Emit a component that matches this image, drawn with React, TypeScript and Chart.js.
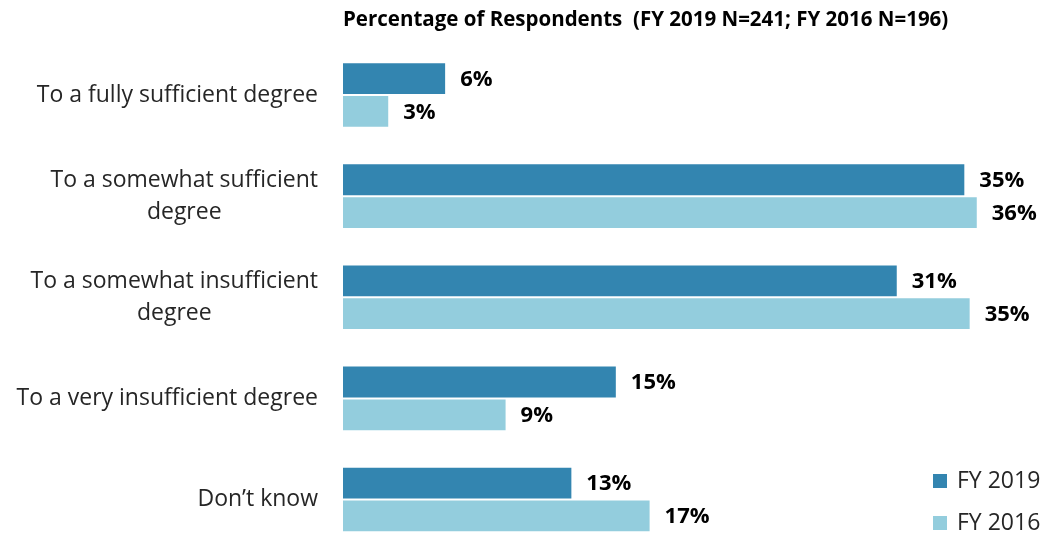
import React, { useEffect, useRef } from "react";
import { Chart, registerables } from "chart.js";

Chart.register(...registerables);

const categories: (string | string[])[] = [
  "To a fully sufficient degree",
  ["To a somewhat sufficient", "degree"],
  ["To a somewhat insufficient", "degree"],
  "To a very insufficient degree",
  "Don’t know",
];
const fy2019: number[] = [5.8, 35.0, 31.2, 15.4, 12.9];
const fy2016: number[] = [2.6, 35.7, 35.3, 9.2, 17.3];
const seriesLabels = ["FY 2019", "FY 2016"];
const titleText = "Percentage of Respondents  (FY 2019 N=241; FY 2016 N=196)";

const FONT = "'Open Sans', 'Noto Sans', sans-serif";
const COLOR_2019 = "#3385B0";
const COLOR_2016 = "#93CDDD";
const LABEL_SIZE = 23;

const yLabelsPlugin = {
  id: "yLabels",
  afterDraw(chart: any) {
    const { ctx } = chart;
    const yScale = chart.scales.y;
    const right = chart.chartArea.left - 25;
    const lineH = 32;
    ctx.save();
    ctx.font = `${LABEL_SIZE}px ${FONT}`;
    ctx.fillStyle = "#262626";
    ctx.textBaseline = "middle";
    ctx.textAlign = "center";
    (chart.data.labels as any[]).forEach((lab, i) => {
      const lines: string[] = Array.isArray(lab) ? lab : [lab];
      const w = Math.max(...lines.map((l) => ctx.measureText(l).width));
      const cx = right - w / 2;
      const cy = yScale.getPixelForTick(i);
      const y0 = cy - ((lines.length - 1) * lineH) / 2;
      lines.forEach((l, k) => ctx.fillText(l, cx, y0 + k * lineH));
    });
    ctx.restore();
  },
};

const valueLabelsPlugin = {
  id: "valueLabels",
  afterDatasetsDraw(chart: any) {
    const { ctx } = chart;
    ctx.save();
    ctx.font = `bold 22px ${FONT}`;
    ctx.fillStyle = "#000000";
    ctx.textBaseline = "middle";
    ctx.textAlign = "left";
    chart.data.datasets.forEach((ds: any, di: number) => {
      const meta = chart.getDatasetMeta(di);
      meta.data.forEach((bar: any, i: number) => {
        const v = Math.round(ds.data[i]);
        ctx.fillText(`${v}%`, bar.x + 14, bar.y + 1);
      });
    });
    ctx.restore();
  },
};

const legendPlugin = {
  id: "cornerLegend",
  afterDraw(chart: any) {
    const { ctx } = chart;
    const x = 933;
    const ys = [481, 523];
    ctx.save();
    ctx.font = `${LABEL_SIZE}px ${FONT}`;
    ctx.textBaseline = "middle";
    ctx.textAlign = "left";
    chart.data.datasets.forEach((ds: any, di: number) => {
      const y = ys[di];
      ctx.fillStyle = ds.backgroundColor;
      ctx.fillRect(x, y - 7, 14, 14);
      ctx.fillStyle = "#262626";
      ctx.fillText(ds.label, x + 24, y);
    });
    ctx.restore();
  },
};

export default function App() {
  const ref = useRef<HTMLCanvasElement | null>(null);
  useEffect(() => {
    if (!ref.current) return;
    const chart = new Chart(ref.current, {
      type: "bar",
      data: {
        labels: categories as any,
        datasets: [
          {
            label: seriesLabels[0],
            data: fy2019,
            backgroundColor: COLOR_2019,
            borderColor: "rgba(255,255,255,0.7)",
            borderWidth: 1,
            categoryPercentage: 0.65,
            barPercentage: 1,
            clip: false as any,
          },
          {
            label: seriesLabels[1],
            data: fy2016,
            backgroundColor: COLOR_2016,
            borderColor: "rgba(255,255,255,0.7)",
            borderWidth: 1,
            categoryPercentage: 0.65,
            barPercentage: 1,
            clip: false as any,
          },
        ],
      },
      options: {
        indexAxis: "y",
        animation: false,
        responsive: true,
        maintainAspectRatio: false,
        layout: { padding: { left: 343, right: 5, bottom: 36.5, top: 0 } },
        scales: {
          x: { display: false, min: 0, max: 39.2, grid: { display: false } },
          y: { display: false, offset: false, grid: { display: false } },
        },
        plugins: {
          legend: { display: false },
          tooltip: { enabled: false },
          title: {
            display: true,
            text: titleText,
            align: "start",
            fullSize: false,
            color: "#000000",
            font: { family: FONT, size: 20.5, weight: "bold", lineHeight: 1.2 },
            padding: { top: 8, bottom: 62.4 },
          },
        },
      },
      plugins: [yLabelsPlugin, valueLabelsPlugin, legendPlugin],
    });
    return () => chart.destroy();
  }, []);
  return (
    <div style={{ position: "absolute", left: 0, top: 0, width: 1045, height: 536 }}>
      <canvas ref={ref} />
    </div>
  );
}
